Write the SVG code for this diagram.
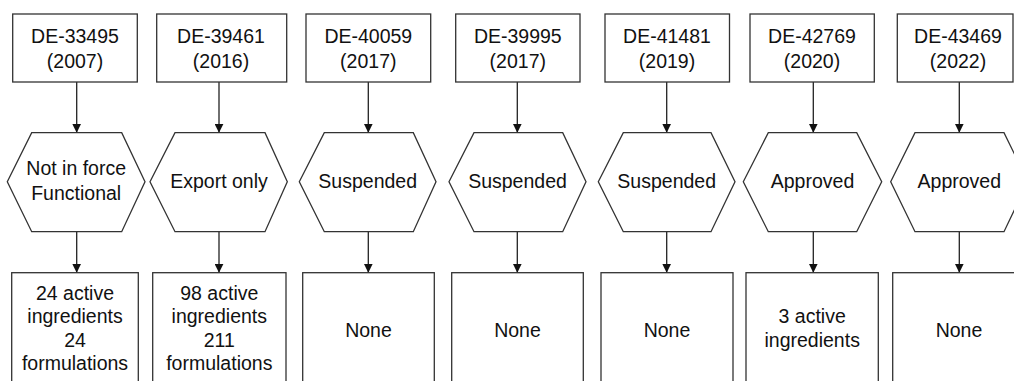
<svg xmlns="http://www.w3.org/2000/svg" width="1014" height="381" viewBox="0 0 1014 381">
<style>
.box{fill:#fff;stroke:#333;stroke-width:1.3}
.t{font-family:"Liberation Sans",Arial,sans-serif;font-size:19.5px;fill:#111;text-anchor:middle}
.c{stroke:#222;stroke-width:1.3;fill:none;marker-end:url(#ah)}
</style>
<defs>
<marker id="ah" viewBox="0 0 10 10" markerUnits="userSpaceOnUse" markerWidth="9" markerHeight="9" refX="10" refY="5" orient="auto">
<path d="M0,0 L10,5 L0,10 z" fill="#111"/>
</marker>
</defs>
<rect width="1014" height="381" fill="#fff"/>
<g id="connectors">
<line class="c" x1="76.7" y1="82" x2="76.7" y2="132.7"/>
<line class="c" x1="76.7" y1="231.7" x2="76.7" y2="272.7"/>
<line class="c" x1="219" y1="82" x2="219" y2="132.7"/>
<line class="c" x1="219" y1="231.7" x2="219" y2="272.7"/>
<line class="c" x1="368.3" y1="82" x2="368.3" y2="132.7"/>
<line class="c" x1="368.3" y1="231.7" x2="368.3" y2="272.7"/>
<line class="c" x1="517.3" y1="82" x2="517.3" y2="132.7"/>
<line class="c" x1="517.3" y1="231.7" x2="517.3" y2="272.7"/>
<line class="c" x1="666.7" y1="82" x2="666.7" y2="132.7"/>
<line class="c" x1="666.7" y1="231.7" x2="666.7" y2="272.7"/>
<line class="c" x1="813.3" y1="82" x2="813.3" y2="132.7"/>
<line class="c" x1="813.3" y1="231.7" x2="813.3" y2="272.7"/>
<line class="c" x1="959.3" y1="82" x2="959.3" y2="132.7"/>
<line class="c" x1="959.3" y1="231.7" x2="959.3" y2="272.7"/>
</g>
<g id="top1"><rect class="box" x="12.7" y="14" width="124.6" height="68"/><text class="t" x="75" y="43.3">DE-33495</text><text class="t" x="75" y="68.3">(2007)</text></g>
<g id="top2"><rect class="box" x="156.7" y="14" width="130" height="68"/><text class="t" x="221" y="43.3">DE-39461</text><text class="t" x="221" y="68.3">(2016)</text></g>
<g id="top3"><rect class="box" x="306" y="14" width="124.7" height="68"/><text class="t" x="368.3" y="43.3">DE-40059</text><text class="t" x="368.3" y="68.3">(2017)</text></g>
<g id="top4"><rect class="box" x="455.7" y="14" width="124.3" height="68"/><text class="t" x="517.8" y="43.3">DE-39995</text><text class="t" x="517.8" y="68.3">(2017)</text></g>
<g id="top5"><rect class="box" x="605" y="14" width="124.5" height="68"/><text class="t" x="667" y="43.3">DE-41481</text><text class="t" x="667" y="68.3">(2019)</text></g>
<g id="top6"><rect class="box" x="750" y="14" width="124.3" height="68"/><text class="t" x="812" y="43.3">DE-42769</text><text class="t" x="812" y="68.3">(2020)</text></g>
<g id="top7"><rect class="box" x="897.3" y="14" width="115.7" height="68"/><text class="t" x="958" y="43.3">DE-43469</text><text class="t" x="958" y="68.3">(2022)</text></g>

<g id="hex1"><polygon class="box" points="7.3,181.7 31.7,132.7 121.7,132.7 145,181.7 121.7,231.7 31.7,231.7"/><text class="t" x="76.2" y="175">Not in force</text><text class="t" x="76.2" y="200">Functional</text></g>
<g id="hex2"><polygon class="box" points="150,181.7 175,132.7 265,132.7 287.3,181.7 265,231.7 175,231.7"/><text class="t" x="219" y="188.3">Export only</text></g>
<g id="hex3"><polygon class="box" points="299.3,181.7 324.3,132.7 413.3,132.7 436,181.7 413.3,231.7 324.3,231.7"/><text class="t" x="367.7" y="188.3">Suspended</text></g>
<g id="hex4"><polygon class="box" points="449,181.7 474,132.7 562.7,132.7 586,181.7 562.7,231.7 474,231.7"/><text class="t" x="517.5" y="188.3">Suspended</text></g>
<g id="hex5"><polygon class="box" points="598.3,181.7 623.3,132.7 711,132.7 735,181.7 711,231.7 623.3,231.7"/><text class="t" x="666.7" y="188.3">Suspended</text></g>
<g id="hex6"><polygon class="box" points="743.3,181.7 768.3,132.7 856.7,132.7 881.7,181.7 856.7,231.7 768.3,231.7"/><text class="t" x="812.5" y="188.3">Approved</text></g>
<g id="hex7"><polygon class="box" points="890.7,181.7 915,132.7 1004,132.7 1028,181.7 1004,231.7 915,231.7"/><text class="t" x="959.3" y="188.3">Approved</text></g>

<g id="bot1"><rect class="box" x="11.7" y="272.7" width="126.6" height="120"/><text class="t" x="75" y="300">24 active</text><text class="t" x="75" y="323.3">ingredients</text><text class="t" x="75" y="346.7">24</text><text class="t" x="75" y="370">formulations</text></g>
<g id="bot2"><rect class="box" x="152.7" y="272.7" width="133.3" height="120"/><text class="t" x="219.3" y="300">98 active</text><text class="t" x="219.3" y="323.3">ingredients</text><text class="t" x="219.3" y="346.7">211</text><text class="t" x="219.3" y="370">formulations</text></g>
<g id="bot3"><rect class="box" x="302.7" y="272.7" width="131.6" height="120"/><text class="t" x="368.5" y="336.7">None</text></g>
<g id="bot4"><rect class="box" x="451.7" y="272.7" width="131.6" height="120"/><text class="t" x="517.5" y="336.7">None</text></g>
<g id="bot5"><rect class="box" x="601" y="272.7" width="132" height="120"/><text class="t" x="667" y="336.7">None</text></g>
<g id="bot6"><rect class="box" x="746" y="272.7" width="132.3" height="120"/><text class="t" x="812.2" y="323.3">3 active</text><text class="t" x="812.2" y="346.7">ingredients</text></g>
<g id="bot7"><rect class="box" x="892.7" y="272.7" width="132.3" height="120"/><text class="t" x="959" y="336.7">None</text></g>
</svg>
